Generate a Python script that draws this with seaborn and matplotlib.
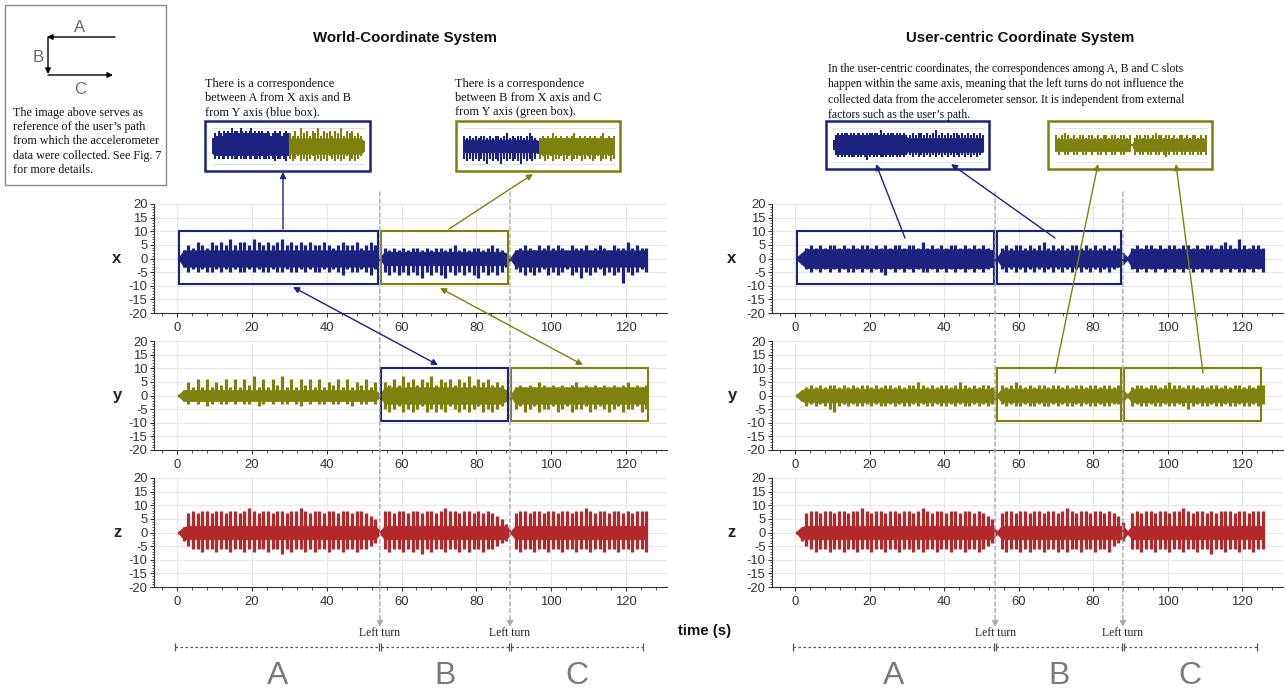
import numpy as np
import matplotlib
matplotlib.use("Agg")
import matplotlib.pyplot as plt
import seaborn as sns
from matplotlib import transforms
from matplotlib.lines import Line2D
from matplotlib.patches import Rectangle
from matplotlib.text import Annotation
from matplotlib.ticker import MultipleLocator

# accelerometer envelope, one reading every 1.25 s (0.5 s .. 125.5 s)
# segment A, turn, segment B, turn, segment C
wx_hi = [0.5, 3,
         5, 4, 6, 5, 4, 6, 5, 6, 5, 7, 5, 6, 6, 5, 7, 6, 5, 6, 5, 6,
         7, 5, 6, 5, 6, 5, 6, 5, 5, 6, 5, 4, 5, 6, 5, 5, 6, 4, 5, 6, 5,
         0.5,
         4, 3, 4, 3, 4, 3, 4, 4, 3, 4, 3, 4, 4, 3, 4, 5, 3, 4, 3, 4, 4, 3, 4, 5, 4, 3, 2,
         0.5,
         3, 4, 5, 4, 3, 5, 4, 5, 4, 5, 4, 3, 5, 4, 4, 5, 3, 4, 5, 4, 3, 5, 4, 4, 6, 4, 5, 4, 4]
wx_lo = [-0.5, -3,
         -5, -4, -5, -4, -5, -5, -4, -5, -4, -5, -4, -5, -5, -4, -5, -4, -5, -5, -4, -5,
         -5, -4, -5, -5, -4, -5, -4, -5, -5, -4, -5, -4, -5, -6, -4, -5, -5, -4, -5, -6, -4,
         -0.5,
         -5, -6, -5, -6, -5, -6, -5, -6, -7, -5, -6, -5, -6, -7, -5, -6, -5, -6, -5, -6,
         -7, -5, -6, -5, -6, -5, -3,
         -0.5,
         -4, -5, -6, -5, -6, -5, -4, -6, -5, -6, -5, -4, -6, -5, -7, -5, -6, -5, -4, -6,
         -5, -6, -5, -9, -5, -6, -5, -4, -5]
wy_hi = [0.5, 2,
         5, 3, 6, 3, 6, 3, 5, 4, 6, 3, 6, 3, 6, 4, 7, 3, 6, 3, 6, 4,
         7, 3, 6, 3, 6, 4, 6, 3, 6, 3, 5, 4, 6, 3, 6, 3, 5, 4, 6, 3, 5,
         0.5,
         5, 4, 6, 4, 7, 5, 6, 4, 6, 5, 7, 4, 6, 5, 6, 4, 6, 5, 7, 4, 6, 5, 6, 4, 5, 4, 2,
         0.5,
         3, 4, 3, 4, 3, 5, 4, 3, 4, 3, 4, 3, 4, 5, 3, 4, 3, 4, 3, 4, 3, 4, 3, 4, 5, 3, 4, 3, 4]
wy_lo = [-0.5, -2,
         -3, -2, -3, -2, -4, -3, -2, -3, -3, -2, -3, -2, -3, -3, -2, -4, -3, -2, -3, -2,
         -3, -3, -2, -3, -4, -2, -3, -2, -3, -3, -2, -3, -3, -2, -3, -4, -2, -3, -3, -2, -3,
         -0.5,
         -5, -6, -5, -4, -6, -5, -6, -5, -4, -6, -5, -6, -5, -6, -4, -5, -6, -5, -6, -5,
         -4, -6, -5, -6, -5, -4, -2,
         -0.5,
         -5, -4, -6, -5, -4, -6, -5, -5, -4, -6, -5, -4, -6, -5, -5, -4, -6, -5, -4, -5,
         -6, -5, -4, -6, -5, -5, -4, -6, -5]
wz_hi = [0.5, 2,
         7, 8, 7, 8, 8, 7, 8, 8, 7, 8, 8, 7, 8, 9, 8, 7, 8, 8, 7, 8,
         8, 7, 8, 8, 9, 8, 7, 8, 8, 7, 8, 8, 7, 8, 8, 7, 8, 8, 7, 6, 5,
         0.5,
         8, 8, 7, 8, 8, 7, 8, 8, 7, 8, 8, 7, 8, 9, 8, 8, 7, 8, 8, 7, 8, 7, 8, 7, 6, 5, 3,
         0.5,
         7, 8, 8, 7, 8, 8, 7, 8, 8, 7, 8, 8, 7, 8, 8, 9, 8, 7, 8, 8, 7, 8, 8, 7, 8, 7, 8, 8, 8]
wz_lo = [-0.5, -3,
         -5, -6, -6, -7, -6, -6, -7, -6, -6, -7, -6, -6, -7, -6, -7, -6, -6, -7, -6, -6,
         -8, -6, -7, -6, -6, -7, -6, -7, -6, -6, -7, -6, -6, -7, -6, -6, -7, -6, -6, -5, -4,
         -0.5,
         -6, -7, -6, -6, -7, -6, -7, -6, -8, -6, -7, -6, -6, -7, -6, -6, -7, -6, -7, -6,
         -6, -7, -6, -6, -5, -4, -3,
         -0.5,
         -6, -7, -6, -6, -7, -6, -6, -7, -6, -6, -7, -6, -6, -7, -6, -6, -7, -6, -6, -7,
         -6, -6, -7, -6, -6, -7, -6, -6, -7]

ux_hi = [0.5, 2,
         4, 5, 4, 5, 4, 5, 5, 4, 5, 4, 5, 4, 5, 5, 4, 5, 4, 5, 4, 5,
         5, 4, 5, 5, 4, 6, 4, 5, 4, 5, 4, 5, 5, 4, 5, 4, 5, 4, 5, 4, 3,
         0.5,
         4, 5, 4, 5, 5, 4, 5, 4, 5, 6, 4, 5, 4, 5, 4, 5, 5, 4, 5, 4, 5, 4, 5, 4, 5, 4, 2,
         0.5,
         4, 5, 4, 5, 5, 4, 5, 4, 5, 5, 4, 5, 5, 4, 5, 4, 5, 5, 4, 5, 6, 5, 4, 7, 5, 4, 5, 5, 4]
ux_lo = [-0.5, -2,
         -4, -5, -4, -5, -4, -5, -4, -5, -4, -5, -5, -4, -5, -4, -5, -4, -5, -6, -4, -5,
         -4, -5, -4, -5, -4, -5, -5, -4, -5, -4, -5, -4, -5, -4, -5, -4, -5, -4, -5, -4, -3,
         -0.5,
         -4, -5, -4, -5, -4, -5, -4, -5, -4, -5, -4, -5, -4, -5, -4, -5, -4, -5, -4, -5,
         -4, -5, -4, -5, -4, -3, -2,
         -0.5,
         -4, -5, -4, -5, -4, -5, -4, -5, -4, -5, -4, -5, -4, -5, -4, -5, -4, -5, -4, -5,
         -4, -5, -4, -5, -5, -4, -5, -4, -5]
uy_hi = [0.5, 2,
         3, 4, 3, 4, 3, 4, 4, 3, 4, 3, 4, 3, 4, 4, 3, 4, 3, 4, 4, 3,
         4, 3, 4, 4, 5, 4, 3, 4, 3, 4, 4, 3, 4, 5, 4, 3, 4, 3, 4, 4, 3,
         0.5,
         4, 3, 4, 5, 4, 3, 4, 3, 4, 4, 3, 4, 4, 3, 4, 3, 4, 4, 3, 4, 4, 3, 4, 4, 3, 4, 2,
         0.5,
         3, 4, 4, 3, 4, 4, 3, 4, 5, 4, 4, 3, 4, 4, 3, 4, 3, 4, 4, 3, 4, 3, 4, 4, 3, 4, 3, 4, 4]
uy_lo = [-0.5, -2,
         -4, -3, -4, -3, -4, -5, -6, -4, -3, -4, -3, -4, -4, -3, -4, -3, -4, -4, -3, -4,
         -3, -4, -4, -3, -4, -3, -4, -4, -3, -4, -4, -3, -4, -3, -4, -4, -3, -4, -3, -4, -3,
         -0.5,
         -3, -4, -3, -4, -4, -3, -4, -4, -3, -4, -4, -3, -4, -3, -4, -4, -3, -4, -3, -4,
         -4, -3, -4, -4, -3, -3, -2,
         -0.5,
         -4, -3, -4, -4, -3, -4, -4, -3, -4, -4, -3, -4, -5, -4, -3, -4, -4, -3, -4, -4,
         -3, -4, -4, -3, -4, -4, -3, -4, -3]
uz_hi = [0.5, 2,
         7, 8, 8, 7, 8, 8, 7, 8, 8, 7, 8, 8, 9, 8, 7, 8, 8, 7, 8, 8,
         7, 8, 8, 7, 8, 9, 8, 7, 8, 8, 7, 8, 8, 7, 8, 8, 7, 8, 7, 6, 5,
         0.5,
         7, 8, 8, 7, 8, 8, 7, 8, 8, 7, 8, 8, 7, 8, 9, 8, 7, 8, 8, 7, 8, 8, 7, 8, 7, 6, 4,
         0.5,
         7, 8, 7, 8, 8, 7, 8, 8, 7, 8, 8, 9, 8, 7, 8, 8, 7, 8, 7, 8, 8, 8, 7, 8, 8, 7, 8, 8, 8]
uz_lo = [-0.5, -3,
         -5, -6, -7, -6, -6, -7, -6, -6, -7, -6, -6, -7, -6, -6, -7, -6, -6, -7, -6, -6,
         -7, -6, -6, -7, -6, -7, -6, -6, -7, -6, -6, -7, -6, -6, -7, -6, -6, -7, -6, -5, -4,
         -0.5,
         -6, -7, -6, -6, -7, -6, -7, -6, -6, -7, -6, -6, -7, -6, -7, -6, -6, -7, -6, -6,
         -7, -6, -6, -7, -5, -4, -3,
         -0.5,
         -6, -6, -7, -6, -6, -7, -6, -6, -7, -6, -6, -7, -6, -6, -7, -6, -6, -8, -6, -6,
         -7, -6, -6, -7, -6, -6, -7, -6, -6]

# half-width of the dense part of the band, per segment A, B, C
wx_core = [3, 2.5, 3]
wy_core = [2, 3, 3]
wz_core = [2.5, 2.5, 2.5]
ux_core = [3.5, 3, 3.5]
uy_core = [2.5, 2.5, 2.5]
uz_core = [2.5, 2.5, 2.5]

world_turns = [54.2, 89.0]
user_turns = [53.7, 88.0]
world_end = 126.2
user_end = 125.4
segments = ["A", "B", "C"]
axis_names = ["x", "y", "z"]

BLUE = "#1b237e"
OLIVE = "#80800f"
RED = "#b3282a"

sns.set_theme(style="whitegrid")
plt.rcParams["font.family"] = ["Liberation Sans", "DejaVu Sans"]
plt.rcParams["axes.unicode_minus"] = False
SERIF = ["Liberation Serif", "DejaVu Serif"]

W, H = 1287, 692
fig = plt.figure(figsize=(W / 100, H / 100), dpi=100)


def fy(y):
    return 1 - y / H


def rect(x0, y0, x1, y1):
    return [x0 / W, 1 - y1 / H, (x1 - x0) / W, (y1 - y0) / H]


def sample_times(vals):
    return 0.5 + 1.25 * np.arange(len(vals))


def draw_trace(ax, hi, lo, core, turns, color, lw=2.3):
    hi = np.asarray(hi, float)
    lo = np.asarray(lo, float)
    t = sample_times(hi)
    c = np.asarray(core, float)[np.digitize(t, turns)]
    ax.fill_between(t, np.maximum(lo, -c), np.minimum(hi, c), color=color, lw=0.5, zorder=3)
    ax.vlines(t, lo, hi, color=color, lw=lw, zorder=3)


def arrow(x0, y0, x1, y1, color, style="-|>", lw=1.0, ms=9):
    ann = Annotation("", xy=(x1 / W, fy(y1)), xytext=(x0 / W, fy(y0)),
                     xycoords="figure fraction", textcoords="figure fraction",
                     arrowprops=dict(arrowstyle=style, color=color, lw=lw,
                                     shrinkA=0, shrinkB=0, mutation_scale=ms))
    fig.add_artist(ann)


def box(x0, y0, x1, y1, color, lw=1.8):
    fig.add_artist(Rectangle((x0 / W, fy(y1)), (x1 - x0) / W, (y1 - y0) / H,
                             transform=fig.transFigure, fill=False, ec=color, lw=lw))


def thumb(x0, y0, x1, y1, edge, parts):
    box(x0, y0, x1, y1, edge)
    ax = fig.add_axes(rect(x0 + 7, y0 + 5, x1 - 4, y1 - 5))
    ax.set_facecolor("white")
    for i, (hi, lo, core, bounds, seg, color) in enumerate(parts):
        hi = np.asarray(hi, float)
        lo = np.asarray(lo, float)
        t = sample_times(hi)
        m = (t > bounds[seg] + 0.6) & (t < bounds[seg + 1] - 0.6)
        tt = (t[m] - t[m].min()) / (t[m].max() - t[m].min()) + i * 1.03
        c = core[seg]
        ax.fill_between(tt, np.maximum(lo[m], -c), np.minimum(hi[m], c), color=color, lw=0.5)
        ax.vlines(tt, lo[m], hi[m], color=color, lw=1.5)
    ax.set_xlim(-0.02, 2.06)
    ax.set_ylim(-7.8, 7.8)
    ax.set_xticks([])
    ax.set_yticks([-7, 7])
    ax.set_yticklabels([])
    ax.tick_params(left=False)
    ax.grid(axis="y", color="#e2e2e2", lw=0.7)
    ax.grid(axis="x", visible=False)
    for s in ax.spines.values():
        s.set_visible(False)


columns = [
    dict(x0=154, x1=667, lab_x=117, title="World-Coordinate System", title_x=405,
         traces=[(wx_hi, wx_lo, wx_core, BLUE), (wy_hi, wy_lo, wy_core, OLIVE),
                 (wz_hi, wz_lo, wz_core, RED)],
         turns=world_turns, end=world_end,
         boxes=[(0, 0, BLUE), (0, 1, OLIVE), (1, 1, BLUE), (1, 2, OLIVE)]),
    dict(x0=772, x1=1283, lab_x=732, title="User-centric Coordinate System", title_x=1020,
         traces=[(ux_hi, ux_lo, ux_core, BLUE), (uy_hi, uy_lo, uy_core, OLIVE),
                 (uz_hi, uz_lo, uz_core, RED)],
         turns=user_turns, end=user_end,
         boxes=[(0, 0, BLUE), (0, 1, BLUE), (1, 1, OLIVE), (1, 2, OLIVE)]),
]
rows = [(204, 313), (341, 450), (478, 587)]

for col in columns:
    axes = []
    bounds = [0] + col["turns"] + [col["end"]]
    for (hi, lo, core, color), (ry0, ry1), name in zip(col["traces"], rows, axis_names):
        ax = fig.add_axes(rect(col["x0"], ry0, col["x1"], ry1))
        draw_trace(ax, hi, lo, core, col["turns"], color)
        ax.set_xlim(-6.2, 131)
        ax.set_ylim(-20, 20)
        ax.xaxis.set_major_locator(MultipleLocator(20))
        ax.xaxis.set_minor_locator(MultipleLocator(4))
        ax.yaxis.set_major_locator(MultipleLocator(5))
        ax.yaxis.set_minor_locator(MultipleLocator(1))
        ax.grid(which="major", color="#e8e8e8", lw=0.8)
        ax.grid(which="minor", visible=False)
        ax.tick_params(which="both", direction="out", bottom=True, left=True,
                       colors="#333333", labelsize=9.4)
        ax.tick_params(which="major", length=3.2, width=0.8)
        ax.tick_params(which="minor", length=1.8, width=0.6)
        ax.tick_params(axis="y", pad=1.5)
        sns.despine(ax=ax)
        for s in ["left", "bottom"]:
            ax.spines[s].set_color("#333333")
            ax.spines[s].set_linewidth(0.8)
        ax.set_ylabel(name, rotation=0, fontsize=12, fontweight="bold", color="#222222",
                      va="center", ha="center")
        ax.yaxis.set_label_coords((col["lab_x"] - col["x0"]) / (col["x1"] - col["x0"]), 0.5)
        axes.append(ax)

    for r, seg, color in col["boxes"]:
        a, b = bounds[seg] + 0.4, bounds[seg + 1] - 0.4
        axes[r].add_patch(Rectangle((a, -9.5), b - a, 19.5, fill=False, ec=color,
                                    lw=1.5, zorder=4))

    tr = transforms.blended_transform_factory(axes[0].transData, fig.transFigure)
    for t in col["turns"]:
        fig.add_artist(Annotation("", xy=(t, fy(627)), xytext=(t, fy(192)),
                                  xycoords=tr, textcoords=tr,
                                  arrowprops=dict(arrowstyle="-|>", color="#a9a9a9", lw=1.0,
                                                  ls=(0, (3, 2)), shrinkA=0, shrinkB=0,
                                                  mutation_scale=9)))
        fig.text(t, fy(633), "Left turn", transform=tr, ha="center", va="center",
                 fontsize=8.4, family=SERIF, color="#222222")

    edges = [-0.6] + col["turns"] + [col["end"] - 1.5]
    for i, letter in enumerate(segments):
        a = edges[i] + (0.3 if i > 0 else 0)
        b = edges[i + 1] - (0.3 if i < 2 else 0)
        fig.add_artist(Line2D([a, b], [fy(647), fy(647)], transform=tr, color="#555555",
                              lw=0.9, ls=(0, (2, 2)), marker="|", markersize=6,
                              markeredgewidth=0.9))
        fig.text((edges[i] + edges[i + 1]) / 2, fy(676), letter, transform=tr,
                 ha="center", va="center", fontsize=23, color="#7a7a7a")

    fig.text(col["title_x"] / W, fy(38), col["title"], ha="center", va="center",
             fontsize=10.8, fontweight="bold", color="#111111")

fig.text(705 / W, fy(631), "time (s)", ha="center", va="center", fontsize=10.8,
         fontweight="bold", color="#111111")

# thumbnails with their captions
fig.text(205 / W, fy(78), "There is a correspondence\nbetween A from X axis and B\nfrom Y axis (blue box).",
         ha="left", va="top", fontsize=8.8, family=SERIF, linespacing=1.25, color="#111111")
fig.text(455 / W, fy(78), "There is a correspondence\nbetween B from X axis and C\nfrom Y axis (green box).",
         ha="left", va="top", fontsize=8.8, family=SERIF, linespacing=1.25, color="#111111")
fig.text(828 / W, fy(63),
         "In the user-centric coordinates, the correspondences among A, B and C slots\n"
         "happen within the same axis, meaning that the left turns do not influence the\n"
         "collected data from the accelerometer sensor. It is independent from external\n"
         "factors such as the user\u2019s path.",
         ha="left", va="top", fontsize=8.4, family=SERIF, linespacing=1.38, color="#111111")

wb = [0] + world_turns + [world_end]
ub = [0] + user_turns + [user_end]
thumb(205, 121, 370, 171, BLUE, [(wx_hi, wx_lo, wx_core, wb, 0, BLUE),
                                 (wy_hi, wy_lo, wy_core, wb, 1, OLIVE)])
thumb(456, 121, 620, 171, OLIVE, [(wx_hi, wx_lo, wx_core, wb, 1, BLUE),
                                  (wy_hi, wy_lo, wy_core, wb, 2, OLIVE)])
thumb(826, 121, 989, 169, BLUE, [(ux_hi, ux_lo, ux_core, ub, 0, BLUE),
                                 (ux_hi, ux_lo, ux_core, ub, 1, BLUE)])
thumb(1048, 121, 1212, 169, OLIVE, [(uy_hi, uy_lo, uy_core, ub, 1, OLIVE),
                                    (uy_hi, uy_lo, uy_core, ub, 2, OLIVE)])

# connecting arrows
arrow(283, 229, 283, 172, BLUE)
arrow(449, 229, 533, 174, OLIVE)
arrow(293, 287, 438, 365, BLUE, style="<|-|>")
arrow(440, 288, 583, 365, OLIVE, style="<|-|>")
arrow(905, 238, 876, 164, BLUE)
arrow(1055, 238, 951, 164, BLUE)
arrow(1055, 373, 1098, 164, OLIVE)
arrow(1203, 373, 1176, 164, OLIVE)

# path legend in the corner
box(5, 5, 166, 185, "#8a8a8a", lw=1.0)
arrow(115, 37, 47, 37, "black", lw=1.0, ms=8)
arrow(48, 37, 48, 74, "black", lw=1.0, ms=8)
arrow(48, 75, 113, 75, "black", lw=1.0, ms=8)
for letter, (lx, ly) in zip(segments, [(80, 28), (38, 58), (80, 89)]):
    fig.text(lx / W, fy(ly), letter, ha="center", va="center", fontsize=12,
             color="#6a6a6a")
fig.text(13 / W, fy(107),
         "The image above serves as\nreference of the user\u2019s path\nfrom which the accelerometer\n"
         "data were collected. See Fig. 7\nfor more details.",
         ha="left", va="top", fontsize=8.7, family=SERIF, linespacing=1.25, color="#111111")

fig.savefig("out.png", dpi=100)
